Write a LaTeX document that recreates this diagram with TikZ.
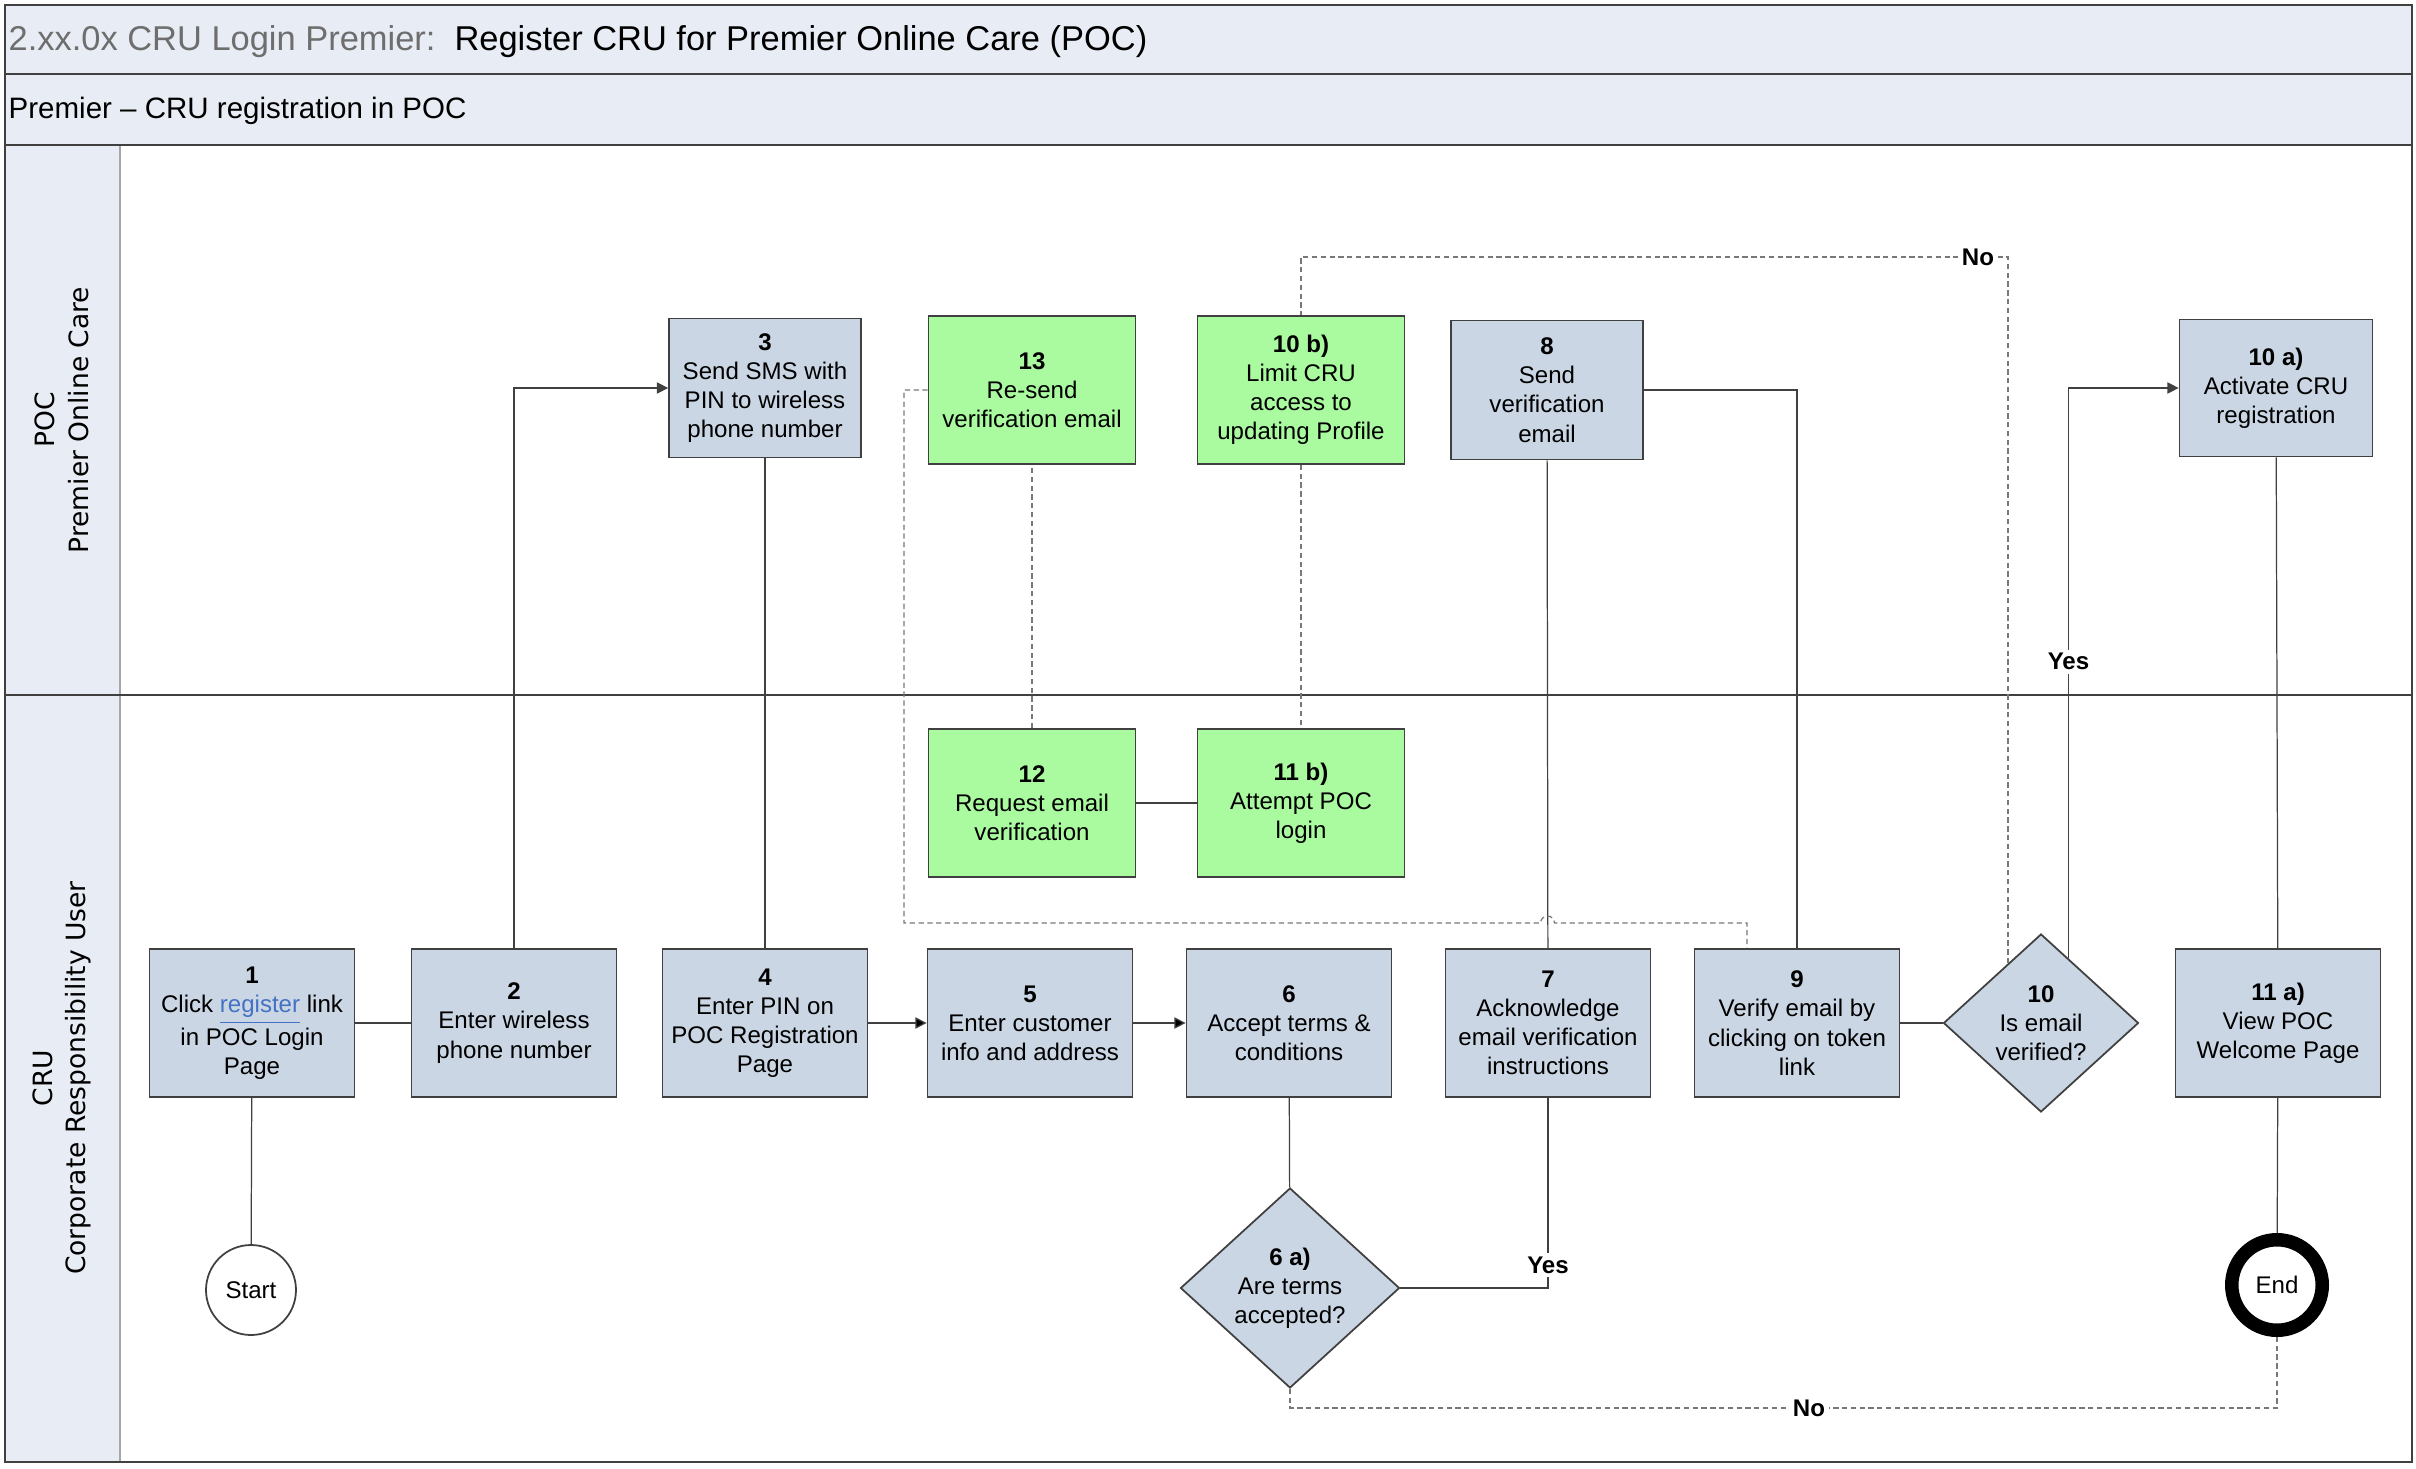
\documentclass[tikz,border=0pt]{standalone}
\usepackage{fontspec}
\setmainfont{Liberation Sans}
\newfontfamily\lanefont{DejaVu Sans}
\usepackage{xcolor}
\usepackage{tikz}
\usetikzlibrary{arrows.meta,shapes.geometric}

\definecolor{bandfill}{RGB}{232,236,244}
\definecolor{stepfill}{RGB}{203,214,228}
\definecolor{newfill}{RGB}{170,250,160}
\definecolor{edgegray}{RGB}{64,64,64}
\definecolor{dashgray}{RGB}{120,120,120}
\definecolor{titlegray}{RGB}{110,110,110}
\definecolor{linkblue}{RGB}{68,114,196}

\begin{document}
\begin{tikzpicture}[font=\fontsize{6.85}{8.3}\selectfont,
  >={Triangle[length=3.2pt,width=3.2pt]},
  task/.style={rectangle, draw=edgegray, line width=0.5pt, fill=stepfill,
    minimum width=2.05cm, minimum height=1.48cm, align=center, inner sep=0pt},
  newtask/.style={task, fill=newfill, minimum width=2.07cm},
  poctask/.style={task, minimum width=1.92cm, minimum height=1.39cm},
  decision/.style={diamond, draw=edgegray, line width=0.5pt, fill=stepfill,
    align=center, inner sep=0pt},
  flow/.style={draw=edgegray, line width=0.35pt},
  altflow/.style={draw=dashgray, line width=0.35pt, dash pattern=on 1.5pt off 1pt},
  lbl/.style={fill=white, inner sep=1pt, font=\fontsize{6.85}{8.3}\selectfont\bfseries}]
\useasboundingbox (0,0) rectangle (24.16,14.68);

% bands and lanes
\fill[bandfill] (0.05,13.23) rectangle (24.12,14.63);
\fill[bandfill] (0.05,0.06) rectangle (1.20,13.23);
\draw[gray!70, line width=0.5pt] (1.20,0.06) -- (1.20,13.23);
\draw[edgegray, line width=0.6pt] (0.05,13.94) -- (24.12,13.94);
\draw[edgegray, line width=0.6pt] (0.05,13.23) -- (24.12,13.23);
\draw[edgegray, line width=0.6pt] (0.05,7.73) -- (24.12,7.73);
\draw[edgegray, line width=0.6pt] (0.05,0.06) rectangle (24.12,14.63);

\node[anchor=west, inner sep=0pt, font=\fontsize{9.8}{11}\selectfont] (title) at (0.08,14.26)
  {\textcolor{titlegray}{2.xx.0x CRU Login Premier:}\hspace{0.55em}Register CRU for Premier Online Care (POC)};
\node[anchor=west, inner sep=0pt, font=\fontsize{8.4}{10}\selectfont] (proc) at (0.08,13.57)
  {Premier – CRU registration in POC};
\node[rotate=90, align=center, font=\lanefont\fontsize{7.55}{9.6}\selectfont] (poc) at (0.62,10.48)
  {POC\\Premier Online Care};
\node[rotate=90, align=center, font=\lanefont\fontsize{7.55}{9.6}\selectfont] (cru) at (0.62,3.90)
  {CRU\\Corporate Responsibility User};

% POC lane
\node[poctask]  (B3)   at (7.65,10.80)  {\textbf{3}\\Send SMS with\\PIN to wireless\\phone number};
\node[newtask]  (B13)  at (10.32,10.78) {\textbf{13}\\Re-send\\verification email};
\node[newtask]  (B10b) at (13.01,10.78) {\textbf{10 b)}\\Limit CRU\\access to\\updating Profile};
\node[poctask]  (B8)   at (15.47,10.78) {\textbf{8}\\Send\\verification\\email};
\node[poctask, minimum width=1.93cm, minimum height=1.37cm]
                (B10a) at (22.76,10.80) {\textbf{10 a)}\\Activate CRU\\registration};

% CRU lane
\node[newtask]  (B12)  at (10.32,6.65)  {\textbf{12}\\Request email\\verification};
\node[newtask]  (B11b) at (13.01,6.65)  {\textbf{11 b)}\\Attempt POC\\login};
\node[task]     (B1)   at (2.52,4.45)   {\textbf{1}\\Click \textcolor{linkblue}{\underline{register}} link\\in POC Login\\Page};
\node[task]     (B2)   at (5.14,4.45)   {\textbf{2}\\Enter wireless\\phone number};
\node[task]     (B4)   at (7.65,4.45)   {\textbf{4}\\Enter PIN on\\POC Registration\\Page};
\node[task]     (B5)   at (10.30,4.45)  {\textbf{5}\\Enter customer\\info and address};
\node[task]     (B6)   at (12.89,4.45)  {\textbf{6}\\Accept terms \&\\conditions};
\node[task]     (B7)   at (15.48,4.45)  {\textbf{7}\\Acknowledge\\email verification\\instructions};
\node[task]     (B9)   at (17.97,4.45)  {\textbf{9}\\Verify email by\\clicking on token\\link};
\node[decision, minimum width=1.95cm, minimum height=1.78cm]
                (D10)  at (20.41,4.45)  {\textbf{10}\\Is email\\verified?};
\node[task]     (B11a) at (22.78,4.45)  {\textbf{11 a)}\\View POC\\Welcome Page};
\node[decision, minimum width=2.19cm, minimum height=2.00cm]
                (D6a)  at (12.90,1.80)  {\textbf{6 a)}\\Are terms\\accepted?};
\node[circle, draw=edgegray, fill=white, line width=0.5pt, minimum size=0.90cm, inner sep=0pt]
                (start) at (2.51,1.78)  {Start};
\node[circle, draw=black, fill=white, line width=0.135cm, minimum size=0.905cm, inner sep=0pt]
                (end)  at (22.77,1.83)  {End};

\coordinate (noTop) at (19.78,12.11);
\coordinate (noBot) at (18.09,0.60);
\coordinate (rsA)   at (9.04,5.45);
\coordinate (hopA)  at (15.405,5.45);
\coordinate (rsB)   at (17.47,5.45);

\path[flow]
  (start) edge (B1)
  (B1)    edge (B2)
  (B3)    edge (B4)
  (B6)    edge (D6a)
  (B7)    edge (B8)
  (B9)    edge (D10)
  (B10a)  edge (B11a)
  (B11a)  edge (end)
  (B11b)  edge (B12);
\path[flow,->]
  (B4) edge (B5)
  (B5) edge (B6);
\path[altflow]
  (B10b) edge (B11b)
  (B12)  edge (B13);

\draw[flow,->] (B2) |- (B3);
\draw[flow] (B8) -| (B9);
\draw[flow] (D6a) -| node[lbl, pos=0.56] {Yes} (B7);
\draw[flow,->] (D10.67) |- node[lbl, pos=0.26] {Yes} (B10a);
\draw[altflow] (D10.119) |- (noTop) -| (B10b);
\draw[altflow] (D6a) |- (noBot) -| (end);
\draw[altflow] (B13) -| (rsA) -- (hopA) arc[start angle=180, end angle=0, radius=0.07] -- (rsB) -- (rsB |- B9.north);
\node[lbl] (noT) at (noTop) {No};
\node[lbl] (noB) at (noBot) {No};
\end{tikzpicture}
\end{document}
